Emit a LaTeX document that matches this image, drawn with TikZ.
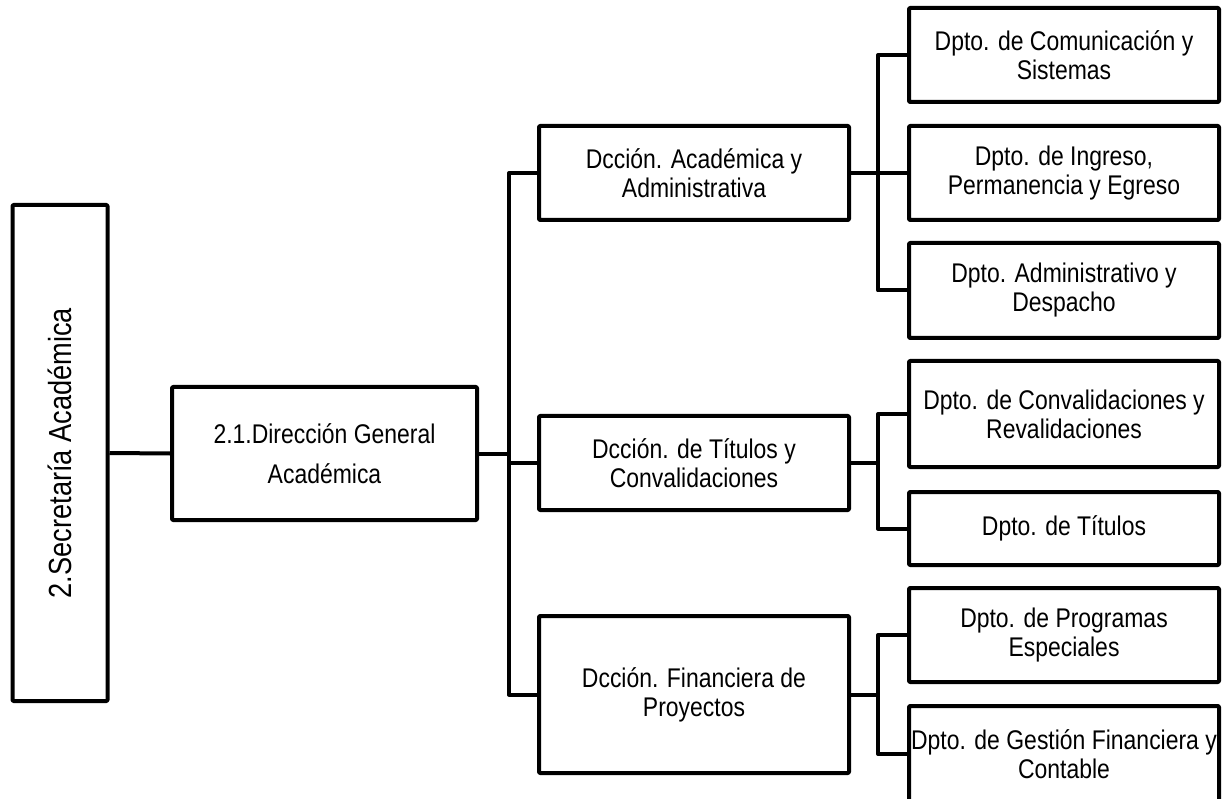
\documentclass[tikz,border=0pt]{standalone}
\usepackage{fontspec}
\setmainfont{Liberation Sans}[FakeStretch=0.85]
\begin{document}
\begin{tikzpicture}[x=1pt,y=-1pt,
  box/.style={draw=black, line width=4pt, line join=round, rounded corners=1pt, inner sep=0pt, align=center, font=\fontsize{27}{29}\selectfont},
  conn/.style={draw=black, line width=4pt, line join=round}]
\useasboundingbox (0,0) rectangle (1229,799);
% boxes
\node[box, minimum width=95, minimum height=496] (sec) at (60,453) {};
\node[rotate=90, inner sep=0pt, font=\fontsize{32}{34}\selectfont] (sectext) at (sec.center) {2.Secretaría Académica};
\node[box, minimum width=305, minimum height=133, font=\fontsize{27}{40}\selectfont] (dir) at (324.5,453.5) {2.1.Dirección General\\Académica};
\node[box, minimum width=310, minimum height=94] (da) at (694,173) {Dcción. Académica y\\Administrativa};
\node[box, minimum width=310, minimum height=94] (dt) at (694,463) {Dcción. de Títulos y\\Convalidaciones};
\node[box, minimum width=310, minimum height=157] (df) at (694,694.5) {Dcción. Financiera de\\Proyectos};
\node[box, minimum width=310, minimum height=94] (p1) at (1064,55) {Dpto. de Comunicación y\\Sistemas};
\node[box, minimum width=310, minimum height=94] (p2) at (1064,173) {Dpto. de Ingreso,\\Permanencia y Egreso};
\node[box, minimum width=310, minimum height=95] (p3) at (1064,290.5) {Dpto. Administrativo y\\Despacho};
\node[box, minimum width=310, minimum height=106] (p4) at (1064,414) {Dpto. de Convalidaciones y\\Revalidaciones};
\node[box, minimum width=310, minimum height=73] (p5) at (1064,528.5) {Dpto. de Títulos};
\node[box, minimum width=310, minimum height=94] (p6) at (1064,635) {Dpto. de Programas\\Especiales};
\node[box, minimum width=310, minimum height=96] (p7) at (1064,754) {Dpto. de Gestión Financiera y\\Contable};
% connector helper coordinates
\coordinate (trunk) at (509,0);
\coordinate (bx) at (878,0);
% connectors
\draw[conn] (sec.east) -- (dir.west);
\draw[conn] (dir.east) -- (dir.east -| trunk);
\draw[conn] (da.west) -- (da.west -| trunk) -- (df.west -| trunk) -- (df.west);
\draw[conn] (dt.west) -- (dt.west -| trunk);
\draw[conn] (p1.west) -- (p1.west -| bx) -- (p3.west -| bx) -- (p3.west);
\draw[conn] (da.east) -- (da.east -| bx);
\draw[conn] (p2.west) -- (p2.west -| bx);
\draw[conn] (p4.west) -- (p4.west -| bx) -- (p5.west -| bx) -- (p5.west);
\draw[conn] (dt.east) -- (dt.east -| bx);
\draw[conn] (p6.west) -- (p6.west -| bx) -- (p7.west -| bx) -- (p7.west);
\draw[conn] (df.east) -- (df.east -| bx);
\end{tikzpicture}
\end{document}
